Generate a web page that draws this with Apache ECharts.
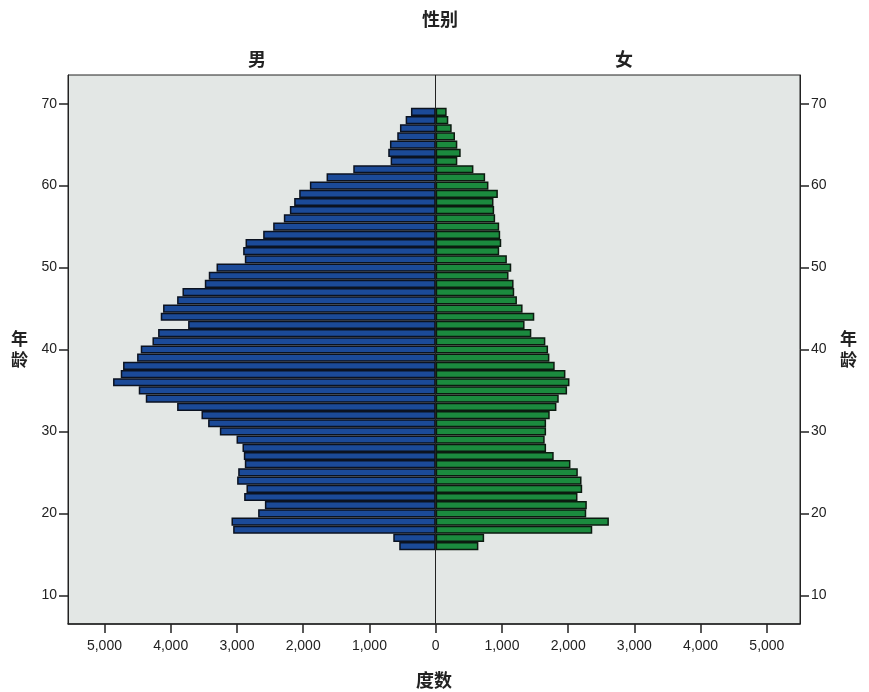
<!DOCTYPE html>
<html>
<head>
<meta charset="utf-8">
<script src="https://cdn.jsdelivr.net/npm/echarts@6/dist/echarts.min.js"></script>
<style>html,body{margin:0;padding:0;background:#fff}#c{width:869px;height:692px}</style>
</head>
<body>
<div id="c"></div>
<script>
// Age categories (axis range 7..73)
const ages = [];
for (let a = 7; a <= 73; a++) ages.push(String(a));
// Counts for ages 16..69
const dataAges = [16,17,18,19,20,21,22,23,24,25,26,27,28,29,30,31,32,33,34,35,36,37,38,39,40,41,42,43,44,45,46,47,48,49,50,51,52,53,54,55,56,57,58,59,60,61,62,63,64,65,66,67,68,69];
const maleCounts = [550,640,3057,3082,2680,2578,2891,2856,2997,2981,2881,2896,2916,3006,3258,3435,3535,3903,4376,4482,4870,4754,4719,4507,4452,4275,4190,3737,4150,4115,3903,3822,3485,3425,3308,2881,2906,2870,2604,2453,2292,2201,2136,2060,1899,1647,1244,680,716,690,580,539,453,373];
const femaleCounts = [645,732,2364,2615,2273,2282,2141,2212,2202,2146,2035,1782,1667,1646,1667,1667,1722,1823,1858,1984,2020,1959,1797,1717,1697,1656,1444,1342,1489,1312,1227,1186,1176,1100,1141,1075,959,990,974,959,898,883,873,939,797,747,570,327,378,327,292,242,191,166];
const xTicks = [-5000,-4000,-3000,-2000,-1000,0,1000,2000,3000,4000,5000];
const titleText = '性别';
const groupLabels = ['男','女'];
const xName = '度数';
const yName = '年\n龄';

const maleSeries = ages.map(a => { const i = dataAges.indexOf(+a); return i >= 0 ? -maleCounts[i] : null; });
const femaleSeries = ages.map(a => { const i = dataAges.indexOf(+a); return i >= 0 ? femaleCounts[i] : null; });

const tickFont = "'Liberation Sans Narrow','Liberation Sans',Arial,sans-serif";
const cjkFont = "'Noto Sans CJK SC','Noto Sans CJK JP',sans-serif";
const labelInterval = (idx, val) => (+val) % 10 === 0;

const yAxisCommon = {
  type: 'category', data: ages, boundaryGap: true,
  axisLine: { show: true, onZero: false, lineStyle: { color: '#222', width: 1 } },
  axisTick: { show: true, alignWithLabel: true, interval: labelInterval, length: 9, lineStyle: { color: '#222', width: 1.5 } },
  axisLabel: { interval: labelInterval, color: '#222', fontFamily: tickFont, fontSize: 14, margin: 11 },
  name: yName, nameLocation: 'middle', nameRotate: 0, nameGap: 40,
  nameTextStyle: { fontFamily: cjkFont, fontWeight: 'bold', fontSize: 17, color: '#222', lineHeight: 21, padding: [6, 0, 0, 0] },
  splitLine: { show: false }
};

const chart = echarts.init(document.getElementById('c'), null, { renderer: 'canvas' });
chart.setOption({
  animation: false,
  backgroundColor: '#fff',
  title: [
    { text: titleText, left: 435, top: 5, textAlign: 'center', textStyle: { fontFamily: cjkFont, fontWeight: 'bold', fontSize: 18, color: '#222' } },
    { text: groupLabels[0], left: 252, top: 45, textAlign: 'center', textStyle: { fontFamily: cjkFont, fontWeight: 'bold', fontSize: 18, color: '#222' } },
    { text: groupLabels[1], left: 619, top: 45, textAlign: 'center', textStyle: { fontFamily: cjkFont, fontWeight: 'bold', fontSize: 18, color: '#222' } }
  ],
  grid: { left: 68, right: 69, top: 75, bottom: 68, outerBoundsMode: 'none', containLabel: false,
    show: true, backgroundColor: '#e3e7e5', borderColor: '#222', borderWidth: 1 },
  xAxis: {
    type: 'value', min: -5550, max: 5500,
    axisLine: { show: true, onZero: false, lineStyle: { color: '#222', width: 1.5 } },
    axisTick: { show: true, customValues: xTicks, length: 9, lineStyle: { color: '#222', width: 1.5 } },
    axisLabel: { customValues: xTicks, color: '#222', fontFamily: tickFont, fontSize: 14, margin: 15,
      formatter: v => Math.abs(v).toLocaleString('en-US') },
    splitLine: { show: false },
    name: xName, nameLocation: 'middle', nameGap: 47,
    nameTextStyle: { fontFamily: cjkFont, fontWeight: 'bold', fontSize: 18, color: '#222' }
  },
  yAxis: [
    Object.assign({}, yAxisCommon, { position: 'left' }),
    Object.assign({}, yAxisCommon, { position: 'right' })
  ],
  series: [
    { name: groupLabels[0], type: 'bar', stack: 'p', data: maleSeries, barCategoryGap: '0%',
      itemStyle: { color: '#1b4a98', borderColor: '#0b1220', borderWidth: 1.5 },
      markLine: { silent: true, symbol: 'none', label: { show: false },
        lineStyle: { color: '#222', width: 1, type: 'solid' }, data: [{ xAxis: 0 }] } },
    { name: groupLabels[1], type: 'bar', stack: 'p', data: femaleSeries, barCategoryGap: '0%',
      itemStyle: { color: '#1b8a3e', borderColor: '#0b1a0f', borderWidth: 1.5 } }
  ]
});
</script>
</body>
</html>
